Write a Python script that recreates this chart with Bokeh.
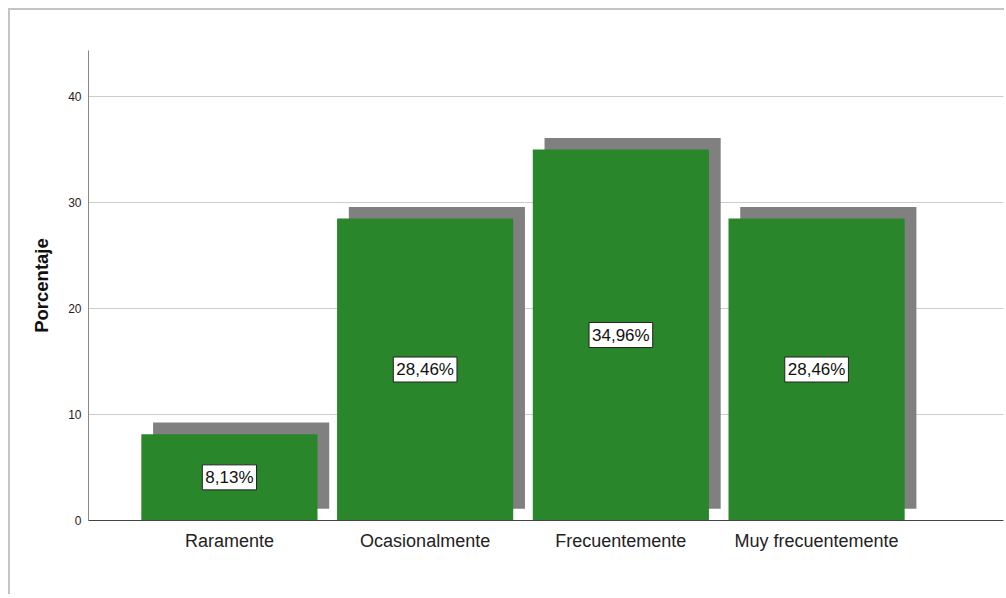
from bokeh.plotting import figure
from bokeh.models import Range1d, FixedTicker, ColumnDataSource
from bokeh.core.properties import value
from bokeh.embed import file_html
from bokeh.resources import INLINE

categories = ["Raramente", "Ocasionalmente", "Frecuentemente", "Muy frecuentemente"]
percent = [8.13, 28.46, 34.96, 28.46]
labels = ["8,13%", "28,46%", "34,96%", "28,46%"]
y_ticks = [0, 10, 20, 30, 40]

xs = list(range(1, len(categories) + 1))
shadow_dx = 0.06
shadow_dy = 1.1

src = ColumnDataSource(dict(
    x=xs,
    top=percent,
    mid=[v / 2 for v in percent],
    lab=labels,
    sx=[x + shadow_dx for x in xs],
    stop=[v + shadow_dy for v in percent],
))

p = figure(width=996, height=586, output_backend="svg", toolbar_location=None,
           x_range=Range1d(0.28, 4.955), y_range=Range1d(0, 44.3),
           min_border_left=78, min_border_top=40, min_border_right=3, min_border_bottom=76)
p.styles = {"border-top": "2px solid #c4c4c4", "border-left": "2px solid #c4c4c4",
            "margin-left": "8px", "margin-top": "8px"}
p.outline_line_color = None
p.background_fill_color = "white"
p.border_fill_color = "white"

p.vbar(x="sx", width=0.9, bottom=shadow_dy, top="stop", source=src,
       fill_color="#808080", line_color=None)
p.vbar(x="x", width=0.9, bottom=0, top="top", source=src,
       fill_color="#2A862A", line_color=None)

p.text(x="x", y="mid", text="lab", source=src, text_align="center",
       text_baseline="middle", text_font=value("Liberation Sans"), text_font_size="17px",
       text_color="#111111", background_fill_color="white",
       border_line_color="#222222", border_line_width=1, padding=3)

p.xgrid.grid_line_color = None
p.ygrid.grid_line_color = "#cccccc"
p.ygrid.ticker = FixedTicker(ticks=y_ticks)

p.xaxis.ticker = FixedTicker(ticks=xs)
p.xaxis.major_label_overrides = {x: c for x, c in zip(xs, categories)}
p.xaxis.major_label_text_font = "Liberation Sans"
p.xaxis.major_label_text_font_size = "18px"
p.xaxis.major_label_text_color = "#222222"
p.xaxis.major_label_standoff = 10
p.xaxis.axis_line_color = "#444444"
p.xaxis.major_tick_line_color = None
p.xaxis.major_tick_out = 0
p.xaxis.major_tick_in = 0
p.xaxis.minor_tick_line_color = None

p.yaxis.ticker = FixedTicker(ticks=y_ticks)
p.yaxis.major_label_text_font = "Liberation Sans"
p.yaxis.major_label_text_font_size = "12px"
p.yaxis.major_label_text_color = "#222222"
p.yaxis.major_label_standoff = 7
p.yaxis.axis_line_color = "#888888"
p.yaxis.major_tick_line_color = None
p.yaxis.major_tick_out = 0
p.yaxis.major_tick_in = 0
p.yaxis.minor_tick_line_color = None
p.yaxis.axis_label = "Porcentaje"
p.yaxis.axis_label_text_font = "Liberation Sans"
p.yaxis.axis_label_text_font_size = "18.5px"
p.yaxis.axis_label_text_font_style = "bold"
p.yaxis.axis_label_text_color = "#111111"
p.yaxis.axis_label_standoff = 13

open("out.html", "w").write(file_html(p, INLINE))
